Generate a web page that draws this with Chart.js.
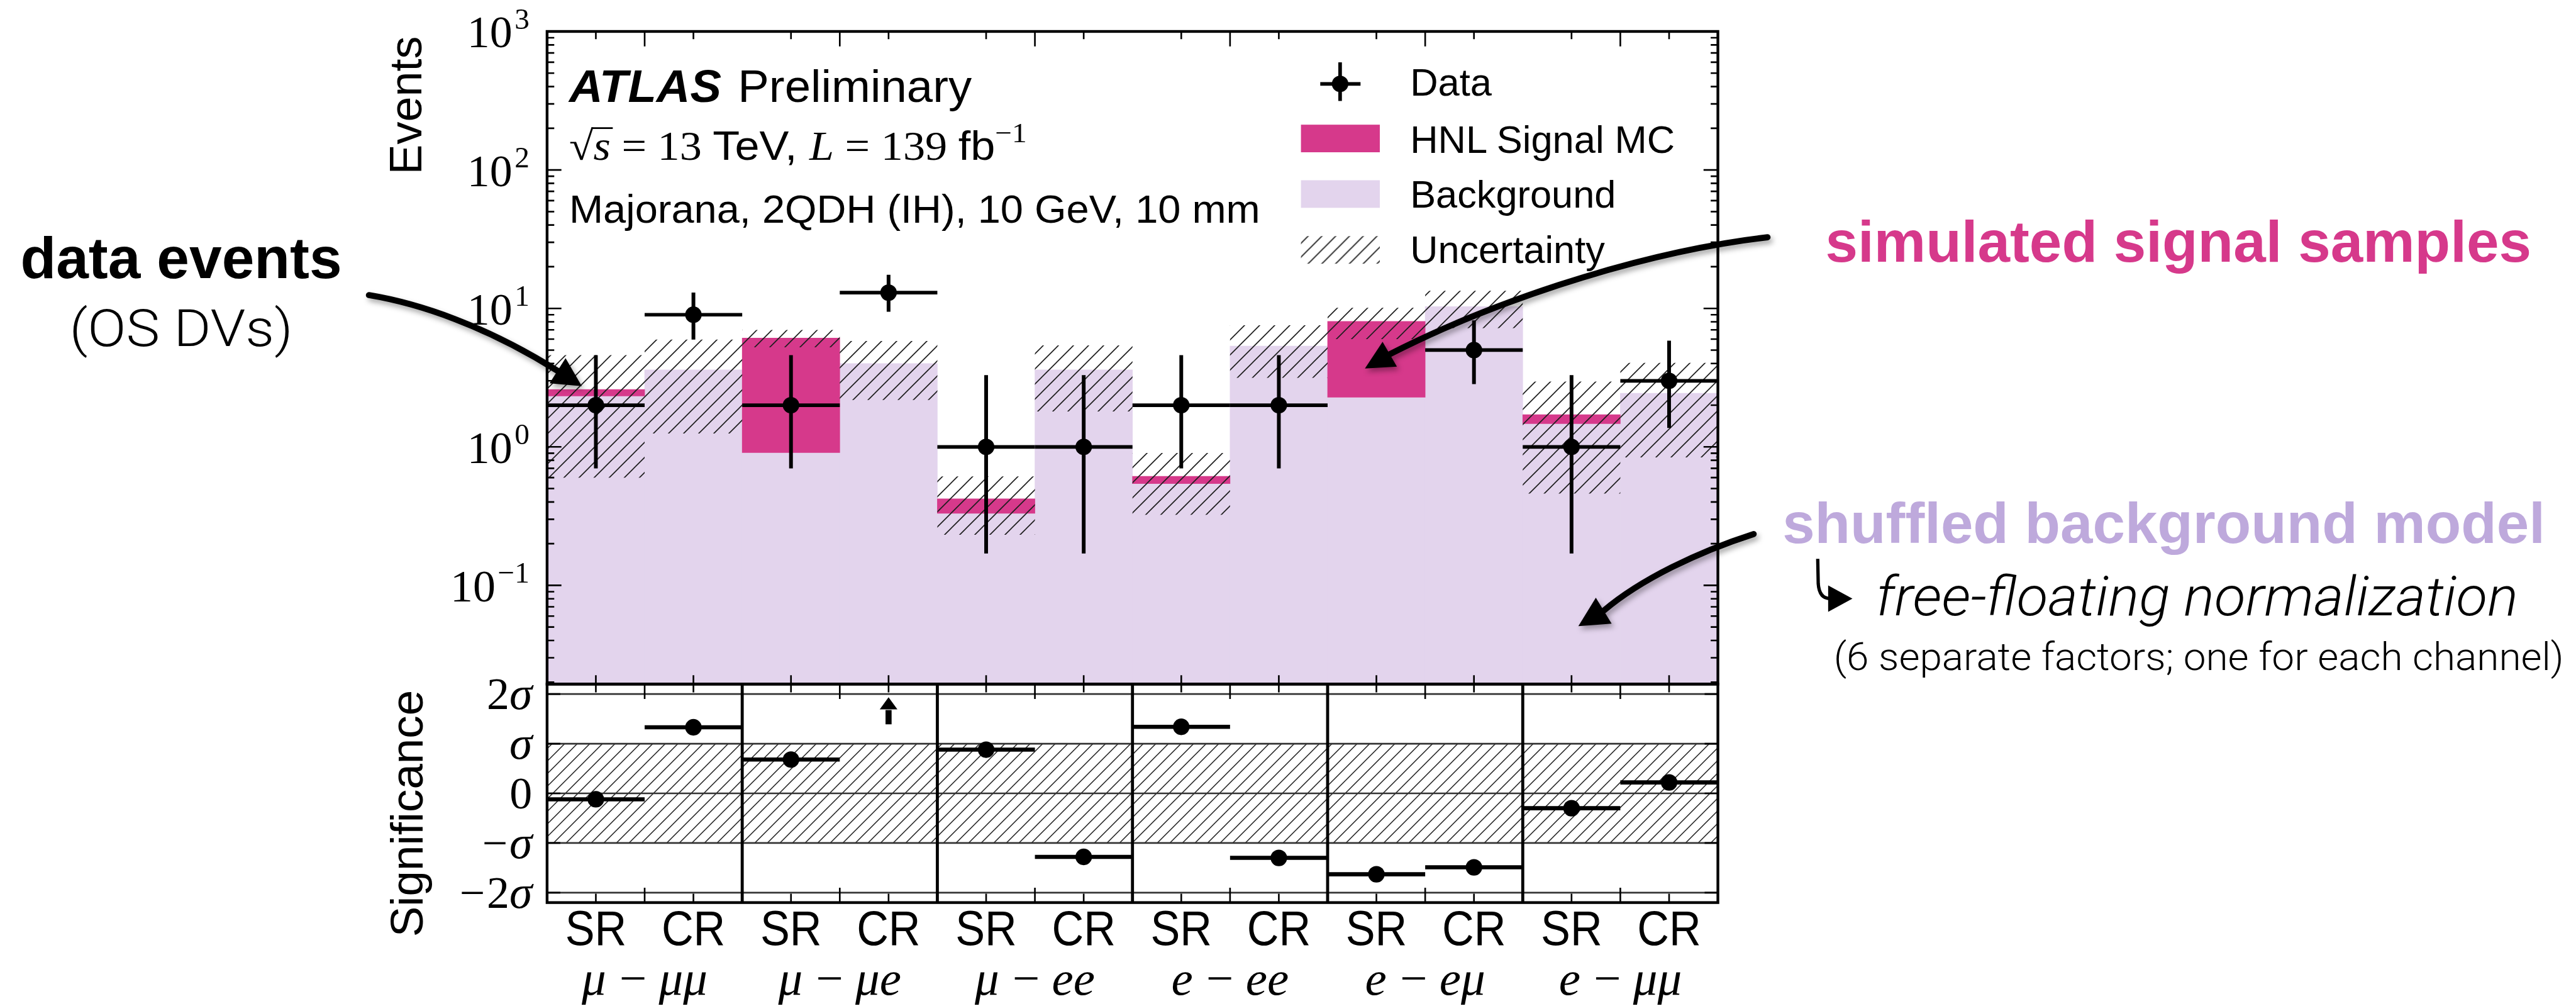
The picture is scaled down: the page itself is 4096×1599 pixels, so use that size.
<!DOCTYPE html>
<html>
<head>
<meta charset="utf-8">
<script src="https://cdn.jsdelivr.net/npm/chart.js@4.4.1/dist/chart.umd.min.js"></script>
<style>
  html, body { margin: 0; padding: 0; background: #ffffff; }
  #wrap { position: relative; width: 4096px; height: 1599px; overflow: hidden; background: #ffffff; }
  canvas { position: absolute; left: 0; top: 0; width: 4096px; height: 1599px; }
  svg { position: absolute; left: 0; top: 0; }
  svg text { white-space: pre; }
</style>
</head>
<body>
<div id="wrap">
  <canvas id="c1" width="4096" height="1599"></canvas>
  <canvas id="c2" width="4096" height="1599"></canvas>
  <svg id="ov" xmlns="http://www.w3.org/2000/svg" width="4096" height="1599" viewBox="0 0 4096 1599"></svg>
</div>
<script>
// ================= DATA =================
const regions      = ['SR','CR','SR','CR','SR','CR','SR','CR','SR','CR','SR','CR'];
const channels     = ['μ − μμ', 'μ − μe', 'μ − ee', 'e − ee', 'e − eμ', 'e − μμ'];
const dataCounts   = [2, 9, 2, 13, 1, 1, 2, 2, 0, 5, 1, 3];
const dataErrLow   = [0.70, 5.95, 0.70, 9.45, 0.17, 0.17, 0.70, 0.70, 0, 2.84, 0.17, 1.37];
const dataErrHigh  = [4.6, 13.0, 4.6, 17.5, 3.3, 3.3, 4.6, 4.6, 0, 8.2, 3.3, 5.85];
const background   = [2.33, 3.6, 0.91, 4.0, 0.331, 3.6, 0.543, 5.35, 2.28, 10.3, 1.47, 2.44];
const signal       = [0.27, 0, 5.2, 0, 0.091, 0, 0.07, 0, 5.77, 0, 0.24, 0];
const uncertainty  = [2.0, 2.35, 0.87, 1.82, 0.19, 1.8, 0.29, 2.2, 2.05, 3.1, 1.25, 1.6];
const significance = [-0.12, 1.33, 0.68, 2.6, 0.88, -1.28, 1.34, -1.30, -1.63, -1.49, -0.30, 0.22];
const yExponents     = [-1, 0, 1, 2, 3];
const sigTickValues  = [-2, -1, 0, 1, 2];
const sigTickLabels  = ['−2σ', '−σ', '0', 'σ', '2σ'];
const sigBand        = [-1, 1];
const binCenters     = [0.5,1.5,2.5,3.5,4.5,5.5,6.5,7.5,8.5,9.5,10.5,11.5];
const majorXTicks    = [1, 3, 5, 7, 9, 11];
const channelEdges   = [2, 4, 6, 8, 10];

const Y_MIN = 0.01936, Y_MAX = 1000, SIG_MIN = -2.2, SIG_MAX = 2.2;

// ================= STYLE / LAYOUT =================
const S = 4096 / 4671;            // reference px -> window px
const P = v => v * S;
const PINK = '#D6398B', LAV = '#E3D4ED', LAV_TEXT = '#BEA9DC';
const SANS = '"Liberation Sans", Arial, Helvetica, sans-serif';
const SERIF = '"Liberation Serif", "Times New Roman", serif';
const LIGHT = 'Roboto, "Liberation Sans", Arial, sans-serif';

function makeHatch(ctx, size, lw, color) {
  const c = document.createElement('canvas');
  const n = Math.round(size);
  c.width = n; c.height = n;
  const g = c.getContext('2d');
  g.strokeStyle = color; g.lineWidth = lw;
  g.beginPath();
  g.moveTo(0, n); g.lineTo(n, 0);
  g.moveTo(-2, 2); g.lineTo(2, -2);
  g.moveTo(n - 2, n + 2); g.lineTo(n + 2, n - 2);
  g.stroke();
  return ctx.createPattern(c, 'repeat');
}
function seg(ctx, x1, y1, x2, y2) { ctx.moveTo(x1, y1); ctx.lineTo(x2, y2); }

function drawParts(ctx, parts, x, y, align) {
  // parts: [{t, font}]
  let w = 0;
  parts.forEach(p => { ctx.font = p.font; p.w = ctx.measureText(p.t).width; w += p.w + (p.gap || 0); });
  let cx = align === 'right' ? x - w : (align === 'center' ? x - w / 2 : x);
  ctx.textAlign = 'left'; ctx.textBaseline = 'alphabetic';
  parts.forEach(p => { ctx.font = p.font; ctx.fillText(p.t, cx, y + (p.dy || 0)); cx += p.w + (p.gap || 0); });
}

// ================= UPPER PANEL =================
const ctx1 = document.getElementById('c1').getContext('2d');
const hatchUp = makeHatch(ctx1, P(27.5), P(1.9), '#1e1e1e');

const upperDecor = {
  id: 'upperDecor',
  afterDatasetDraw(chart, args) {
    if (args.index !== 2) return;
    const { ctx, chartArea: a, scales: { x, y } } = chart;
    ctx.save();
    ctx.beginPath(); ctx.rect(a.left, a.top, a.right - a.left, a.bottom - a.top); ctx.clip();
    ctx.strokeStyle = '#000'; ctx.lineCap = 'butt';
    dataCounts.forEach((d, i) => {
      if (!(d > 0)) return;
      const yc = y.getPixelForValue(d);
      const xc = x.getPixelForValue(binCenters[i]);
      ctx.lineWidth = P(6.5);
      ctx.beginPath(); seg(ctx, x.getPixelForValue(i), yc, x.getPixelForValue(i + 1), yc); ctx.stroke();
      ctx.lineWidth = P(6.8);
      ctx.beginPath(); seg(ctx, xc, y.getPixelForValue(dataErrHigh[i]), xc, y.getPixelForValue(dataErrLow[i])); ctx.stroke();
    });
    ctx.restore();
  },
  afterDraw(chart) {
    const { ctx, chartArea: a, scales: { x, y } } = chart;
    ctx.save();
    ctx.strokeStyle = '#000'; ctx.fillStyle = '#000'; ctx.lineCap = 'butt';
    // y ticks
    ctx.lineWidth = P(3);
    ctx.beginPath();
    yExponents.forEach(e => {
      const p = y.getPixelForValue(Math.pow(10, e));
      seg(ctx, a.left, p, a.left + P(26), p); seg(ctx, a.right, p, a.right - P(26), p);
    });
    for (let e = -2; e <= 2; e++) {
      for (let k = 2; k <= 9; k++) {
        const v = k * Math.pow(10, e);
        if (v <= Y_MIN || v >= Y_MAX) continue;
        const p = y.getPixelForValue(v);
        seg(ctx, a.left, p, a.left + P(13), p); seg(ctx, a.right, p, a.right - P(13), p);
      }
    }
    // x ticks top
    majorXTicks.forEach(v => { const p = x.getPixelForValue(v); seg(ctx, p, a.top, p, a.top + P(27)); });
    binCenters.forEach(v => { const p = x.getPixelForValue(v); seg(ctx, p, a.top, p, a.top + P(14)); seg(ctx, p, a.bottom, p, a.bottom - P(16)); });
    ctx.stroke();
    // frame
    ctx.lineWidth = P(5);
    ctx.strokeRect(a.left, a.top, a.right - a.left, a.bottom - a.top);
    // y tick labels 10^n
    yExponents.forEach(e => {
      const p = y.getPixelForValue(Math.pow(10, e));
      const sup = e < 0 ? '−' + (-e) : String(e);
      drawParts(ctx, [
        { t: '10', font: `${P(82)}px ${SERIF}`, gap: P(4) },
        { t: sup, font: `${P(54)}px ${SERIF}`, dy: -P(34) }
      ], P(960), p + P(29), 'right');
    });
    // y title
    ctx.save();
    ctx.translate(P(764), P(191)); ctx.rotate(-Math.PI / 2);
    ctx.font = `${P(82)}px ${SANS}`; ctx.textAlign = 'center'; ctx.textBaseline = 'alphabetic';
    ctx.fillText('Events', 0, 0);
    ctx.restore();
    ctx.restore();
  }
};

new Chart(ctx1, {
  type: 'bar',
  data: {
    datasets: [
      { type: 'bar', label: 'Background', order: 3, grouped: false, barPercentage: 1, categoryPercentage: 1,
        backgroundColor: LAV, borderWidth: 0,
        data: background.map((b, i) => ({ x: binCenters[i], y: [Y_MIN, b] })) },
      { type: 'bar', label: 'HNL Signal MC', order: 2, grouped: false, barPercentage: 1, categoryPercentage: 1,
        backgroundColor: PINK, borderWidth: 0,
        data: signal.map((s, i) => ({ x: binCenters[i], y: s > 0 ? [background[i], background[i] + s] : null })) },
      { type: 'bar', label: 'Uncertainty', order: 1, grouped: false, barPercentage: 1, categoryPercentage: 1,
        backgroundColor: hatchUp, borderWidth: 0, inflateAmount: 0,
        data: background.map((b, i) => { const t = b + signal[i]; return { x: binCenters[i], y: [t - uncertainty[i], t + uncertainty[i]] }; }) },
      { type: 'scatter', label: 'Data', order: 0,
        data: dataCounts.map((d, i) => ({ x: binCenters[i], y: d > 0 ? d : null })),
        pointRadius: P(15), pointHoverRadius: P(15), backgroundColor: '#000', borderWidth: 0 }
    ]
  },
  options: {
    responsive: false, animation: false, devicePixelRatio: 1, events: [],
    layout: { padding: { left: P(992), right: 4096 - P(3115), top: P(57), bottom: 1599 - P(1240) } },
    plugins: { legend: { display: false }, tooltip: { enabled: false } },
    scales: {
      x: { type: 'linear', min: 0, max: 12, offset: false, display: false },
      y: { type: 'logarithmic', min: Y_MIN, max: Y_MAX, display: false }
    }
  },
  plugins: [upperDecor]
});

// ================= LOWER PANEL =================
const ctx2 = document.getElementById('c2').getContext('2d');
const hatchLow = makeHatch(ctx2, P(22.5), P(1.7), '#1e1e1e');

const lowerDecor = {
  id: 'lowerDecor',
  beforeDatasetsDraw(chart) {
    const { ctx, chartArea: a, scales: { x, y } } = chart;
    ctx.save();
    const yt = y.getPixelForValue(sigBand[1]), yb = y.getPixelForValue(sigBand[0]);
    ctx.fillStyle = hatchLow;
    ctx.fillRect(a.left, yt, a.right - a.left, yb - yt);
    ctx.strokeStyle = '#333'; ctx.lineWidth = P(3);
    ctx.beginPath();
    sigTickValues.forEach(v => { const p = y.getPixelForValue(v); seg(ctx, a.left, p, a.right, p); });
    ctx.stroke();
    ctx.strokeStyle = '#000'; ctx.lineWidth = P(5.5);
    ctx.beginPath();
    channelEdges.forEach(v => { const p = x.getPixelForValue(v); seg(ctx, p, a.top, p, a.bottom); });
    ctx.stroke();
    ctx.lineWidth = P(7.5);
    ctx.beginPath();
    significance.forEach((s, i) => {
      if (s > SIG_MAX || s < SIG_MIN) return;
      const p = y.getPixelForValue(s);
      seg(ctx, x.getPixelForValue(i), p, x.getPixelForValue(i + 1), p);
    });
    ctx.stroke();
    ctx.restore();
  },
  afterDraw(chart) {
    const { ctx, chartArea: a, scales: { x, y } } = chart;
    ctx.save();
    ctx.strokeStyle = '#000'; ctx.fillStyle = '#000'; ctx.lineCap = 'butt';
    // overflow arrows
    significance.forEach((s, i) => {
      if (s <= SIG_MAX) return;
      const xc = x.getPixelForValue(binCenters[i]);
      const yTip = y.getPixelForValue(1.935), yBase = y.getPixelForValue(1.69), yEnd = y.getPixelForValue(1.39);
      ctx.lineWidth = P(11);
      ctx.beginPath(); seg(ctx, xc, yEnd, xc, yBase + 1); ctx.stroke();
      ctx.beginPath(); ctx.moveTo(xc, yTip); ctx.lineTo(xc - P(16), yBase); ctx.lineTo(xc + P(16), yBase); ctx.closePath(); ctx.fill();
    });
    // ticks
    ctx.lineWidth = P(3);
    ctx.beginPath();
    majorXTicks.forEach(v => { const p = x.getPixelForValue(v); seg(ctx, p, a.top, p, a.top + P(27)); seg(ctx, p, a.bottom, p, a.bottom - P(27)); });
    binCenters.forEach(v => { const p = x.getPixelForValue(v); seg(ctx, p, a.top, p, a.top + P(15)); seg(ctx, p, a.bottom, p, a.bottom - P(16)); });
    sigTickValues.forEach(v => { const p = y.getPixelForValue(v); seg(ctx, a.left, p, a.left + P(24), p); seg(ctx, a.right, p, a.right - P(24), p); });
    ctx.stroke();
    // frame
    ctx.lineWidth = P(5);
    ctx.strokeRect(a.left, a.top, a.right - a.left, a.bottom - a.top);
    // y tick labels
    sigTickValues.forEach((v, k) => {
      const p = y.getPixelForValue(v);
      const lab = sigTickLabels[k];
      const parts = [];
      for (const ch of lab) {
        parts.push({ t: ch, font: ch === 'σ' ? `italic ${P(84)}px ${SERIF}` : `${P(82)}px ${SERIF}`, gap: ch === '−' ? P(3) : 0 });
      }
      drawParts(ctx, parts, P(965), p + P(27), 'right');
    });
    // x labels: regions
    ctx.font = `${P(88)}px ${SANS}`; ctx.textAlign = 'center'; ctx.textBaseline = 'alphabetic';
    regions.forEach((r, i) => {
      ctx.save();
      ctx.translate(x.getPixelForValue(binCenters[i]), P(1713));
      ctx.scale(0.91, 1);
      ctx.fillText(r, 0, 0);
      ctx.restore();
    });
    // channel labels
    channels.forEach((c, k) => {
      const [l, r] = c.split(' − ');
      drawParts(ctx, [
        { t: l, font: `italic ${P(88)}px ${SERIF}`, gap: P(24) },
        { t: '−', font: `${P(88)}px ${SERIF}`, gap: P(22) },
        { t: r, font: `italic ${P(88)}px ${SERIF}` }
      ], x.getPixelForValue(majorXTicks[k]), P(1803), 'center');
    });
    // y title
    ctx.save();
    ctx.translate(P(766), P(1474.5)); ctx.rotate(-Math.PI / 2);
    ctx.font = `${P(83)}px ${SANS}`; ctx.textAlign = 'center'; ctx.textBaseline = 'alphabetic';
    ctx.fillText('Significance', 0, 0);
    ctx.restore();
    ctx.restore();
  }
};

new Chart(ctx2, {
  type: 'scatter',
  data: {
    datasets: [{
      label: 'Significance',
      data: significance.map((v, i) => ({ x: binCenters[i], y: (v <= SIG_MAX && v >= SIG_MIN) ? v : null })),
      pointRadius: P(15), pointHoverRadius: P(15), backgroundColor: '#000', borderWidth: 0
    }]
  },
  options: {
    responsive: false, animation: false, devicePixelRatio: 1, events: [],
    layout: { padding: { left: P(992), right: 4096 - P(3115), top: P(1240), bottom: 1599 - P(1636) } },
    plugins: { legend: { display: false }, tooltip: { enabled: false } },
    scales: {
      x: { type: 'linear', min: 0, max: 12, offset: false, display: false },
      y: { type: 'linear', min: SIG_MIN, max: SIG_MAX, display: false }
    }
  },
  plugins: [lowerDecor]
});

// ================= SVG OVERLAY: labels, legend, annotations, arrows =================
const NS = 'http://www.w3.org/2000/svg';
const svg = document.getElementById('ov');
function el(tag, attrs, parent) {
  const e = document.createElementNS(NS, tag);
  for (const k in attrs) e.setAttribute(k, attrs[k]);
  (parent || svg).appendChild(e);
  return e;
}
const defs = el('defs', {});
const pat = el('pattern', { id: 'hatch', patternUnits: 'userSpaceOnUse', width: P(25), height: P(25) }, defs);
el('path', { d: `M0,${P(25)} L${P(25)},0 M-2,2 L2,-2 M${P(25) - 2},${P(25) + 2} L${P(25) + 2},${P(25) - 2}`, stroke: '#222', 'stroke-width': P(2.2) }, pat);
const flt = el('filter', { id: 'sh', x: '-30%', y: '-30%', width: '160%', height: '160%' }, defs);
el('feDropShadow', { dx: P(4), dy: P(6), stdDeviation: P(5), 'flood-color': '#000', 'flood-opacity': '0.35' }, flt);

function addText(content, x, y, o) {
  const t = el('text', {
    x: P(x), y: P(y), 'font-family': o.family || SANS, 'font-size': P(o.size), fill: o.fill || '#000'
  });
  if (o.weight) t.setAttribute('font-weight', o.weight);
  if (o.style) t.setAttribute('font-style', o.style);
  if (o.width) { t.setAttribute('textLength', P(o.width)); t.setAttribute('lengthAdjust', 'spacingAndGlyphs'); }
  if (typeof content === 'string') t.textContent = content;
  else content.forEach(p => {
    const s = el('tspan', {}, t);
    if (p.family) s.setAttribute('font-family', p.family);
    if (p.style) s.setAttribute('font-style', p.style);
    if (p.size) s.setAttribute('font-size', P(p.size));
    if (p.dy) s.setAttribute('dy', P(p.dy));
    s.textContent = p.t;
  });
  return t;
}

// ATLAS label block
addText('ATLAS', 1032, 185, { size: 82, weight: 'bold', style: 'italic', width: 276 });
addText('Preliminary', 1338, 185, { size: 82, width: 424 });
const sq = addText([
  { t: '√', family: SERIF },
  { t: 's', family: SERIF, style: 'italic' },
  { t: ' = 13 ', family: SERIF },
  { t: 'TeV, ', family: SANS },
  { t: 'L', family: SERIF, style: 'italic' },
  { t: ' = 139 ', family: SERIF },
  { t: 'fb', family: SANS },
  { t: '−1', family: SERIF, size: 50, dy: -32 }
], 1032, 290, { size: 74, width: 830 });
addText('Majorana, 2QDH (IH), 10 GeV, 10 mm', 1032, 404, { size: 72, width: 1253 });

// vinculum over s
try {
  const e0 = sq.getExtentOfChar(0), e1 = sq.getExtentOfChar(1);
  const mc = document.createElement('canvas').getContext('2d');
  mc.font = `${P(74)}px ${SERIF}`;
  const asc = mc.measureText('√').actualBoundingBoxAscent;
  const yv = P(290) - asc + P(1.6);
  el('line', { x1: e0.x + e0.width * 0.92, y1: yv, x2: e1.x + e1.width + P(4), y2: yv, stroke: '#000', 'stroke-width': P(3.2) });
} catch (err) {}

// Legend
const lg = el('g', {});
el('line', { x1: P(2394), y1: P(152), x2: P(2467), y2: P(152), stroke: '#000', 'stroke-width': P(6.5) }, lg);
el('line', { x1: P(2430), y1: P(113), x2: P(2430), y2: P(183), stroke: '#000', 'stroke-width': P(6.5) }, lg);
el('circle', { cx: P(2430), cy: P(152), r: P(15), fill: '#000' }, lg);
el('rect', { x: P(2359), y: P(226), width: P(143), height: P(50), fill: PINK }, lg);
el('rect', { x: P(2359), y: P(326.7), width: P(143), height: P(50), fill: LAV }, lg);
el('rect', { x: P(2359), y: P(428), width: P(143), height: P(50), fill: 'url(#hatch)' }, lg);
addText('Data', 2557, 173, { size: 70 });
addText('HNL Signal MC', 2557, 276.7, { size: 70, width: 480 });
addText('Background', 2557, 376.7, { size: 70, width: 373 });
addText('Uncertainty', 2557, 476.7, { size: 70, width: 353 });

// Annotations
addText('data events', 37, 504, { size: 105, weight: 'bold', width: 583 });
addText('(OS DVs)', 126, 627, { size: 93, family: LIGHT, weight: '300', width: 405 });
addText('simulated signal samples', 3310, 474, { size: 105, weight: 'bold', fill: PINK, width: 1280 });
addText('shuffled background model', 3232, 984.6, { size: 104, weight: 'bold', fill: LAV_TEXT, width: 1383 });
addText('free-floating normalization', 3402, 1115, { size: 100, family: LIGHT, weight: '300', style: 'italic', width: 1164 });
addText('(6 separate factors; one for each channel)', 3325, 1214, { size: 69, family: LIGHT, weight: '300', width: 1324 });

// Arrows
function fmt(pts) { return pts.map(p => `${P(p[0]).toFixed(1)},${P(p[1]).toFixed(1)}`).join(' '); }
function bigArrow(start, c1, c2, end, tip, headW, lw, shadow) {
  const g = el('g', shadow ? { filter: 'url(#sh)' } : {});
  el('path', {
    d: `M${fmt([start])} C${fmt([c1, c2, end])}`,
    fill: 'none', stroke: '#000', 'stroke-width': P(lw), 'stroke-linecap': 'round'
  }, g);
  const dx = tip[0] - end[0], dy = tip[1] - end[1], L = Math.hypot(dx, dy);
  const nx = -dy / L, ny = dx / L;
  el('polygon', {
    points: fmt([tip, [end[0] + nx * headW / 2, end[1] + ny * headW / 2], [end[0] - nx * headW / 2, end[1] - ny * headW / 2]]),
    fill: '#000'
  }, g);
}
bigArrow([669, 535], [760, 550], [880, 590], [1011, 672], [1055, 700], 54, 11, true);
bigArrow([3205, 430], [2950, 460], [2680, 560], [2520, 642], [2475, 668], 52, 11, true);
bigArrow([3180, 968], [3080, 1000], [2975, 1050], [2908, 1107], [2862, 1135], 55, 11, true);
// hook arrow
el('path', { d: `M${fmt([[3296, 1013]])} L${fmt([[3297, 1058]])} Q${fmt([[3299, 1085], [3318, 1085]])}`,
  fill: 'none', stroke: '#000', 'stroke-width': P(6) });
el('polygon', { points: fmt([[3315, 1061], [3315, 1109], [3359, 1085]]), fill: '#000' });
</script>
</body>
</html>
